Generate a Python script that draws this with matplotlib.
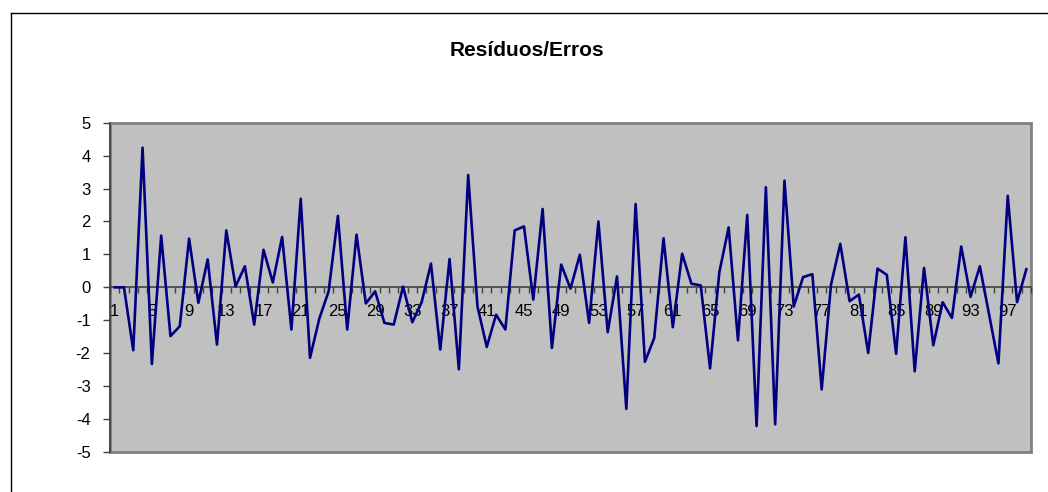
import matplotlib
matplotlib.use('Agg')
import matplotlib.pyplot as plt
import numpy as np
from matplotlib.patches import Rectangle
from matplotlib.lines import Line2D

plt.rcParams['font.family'] = ['Liberation Sans', 'DejaVu Sans']
plt.rcParams['axes.unicode_minus'] = False

title = 'Resíduos/Erros'

# residuos observados, um por observacao
residuos = [
    0.0, 0.0, -1.91, 4.24, -2.33, 1.57, -1.48, -1.18, 1.48, -0.47,
    0.85, -1.74, 1.73, 0.03, 0.64, -1.13, 1.14, 0.15, 1.53, -1.28,
    2.69, -2.14, -0.95, -0.12, 2.17, -1.28, 1.60, -0.49, -0.12, -1.08,
    -1.13, 0.02, -1.06, -0.45, 0.72, -1.89, 0.86, -2.49, 3.41, -0.58,
    -1.81, -0.83, -1.28, 1.73, 1.85, -0.37, 2.38, -1.84, 0.69, -0.04,
    0.99, -1.08, 2.00, -1.36, 0.33, -3.69, 2.53, -2.26, -1.54, 1.49,
    -1.21, 1.02, 0.11, 0.06, -2.46, 0.46, 1.82, -1.61, 2.20, -4.21,
    3.04, -4.16, 3.24, -0.58, 0.31, 0.40, -3.10, 0.08, 1.32, -0.42,
    -0.22, -1.99, 0.57, 0.38, -2.02, 1.52, -2.55, 0.59, -1.76, -0.45,
    -0.93, 1.24, -0.29, 0.64, -0.83, -2.31, 2.78, -0.45, 0.55,
]
obs = np.arange(1, len(residuos) + 1)
label_step = 4
y_ticks = list(range(-5, 6))

W, H = 1048, 492
fig = plt.figure(figsize=(W / 100, H / 100), dpi=100)
fig.patch.set_facecolor('white')

# moldura externa do grafico
fig.add_artist(Line2D([10.5 / W, 10.5 / W], [0, 1 - 12.5 / H], color='black', lw=1))
fig.add_artist(Line2D([10.5 / W, 1], [1 - 12.5 / H, 1 - 12.5 / H], color='black', lw=1))

left, right, top, bottom = 110, 1031, 122.7, 452
ax = fig.add_axes([left / W, (H - bottom) / H, (right - left) / W, (bottom - top) / H])
ax.set_facecolor('#C0C0C0')

ax.plot(obs, residuos, color='#000080', lw=1.9, zorder=3)

ax.set_xlim(0.5, len(residuos) + 0.5)
ax.set_ylim(-5, 5)

# eixo das categorias cruzando no zero
for s in ['top', 'right']:
    ax.spines[s].set_visible(False)
ax.spines['bottom'].set_position(('data', 0))
ax.spines['bottom'].set_color('#404040')
ax.spines['bottom'].set_linewidth(1.2)
ax.spines['left'].set_color('#404040')
ax.spines['left'].set_linewidth(1.2)

ax.set_xticks(obs[::label_step])
ax.set_xticklabels([str(i) for i in obs[::label_step]])
ax.set_xticks(np.arange(0.5, len(residuos) + 1, 1), minor=True)
ax.tick_params(axis='x', which='major', length=0, pad=12, labelsize=12)
ax.tick_params(axis='x', which='minor', length=4, width=1, color='#404040', direction='out')

ax.set_yticks(y_ticks)
ax.set_yticklabels([str(v) for v in y_ticks])
ax.tick_params(axis='y', length=5, width=1, color='#404040', pad=9, labelsize=12)

ax.add_patch(Rectangle((0, 0), 1, 1, transform=ax.transAxes, fill=False,
                       edgecolor='#808080', lw=2, clip_on=False, zorder=1))

fig.text(527 / W, 1 - 50 / H, title, ha='center', va='center',
         fontsize=15, fontweight='bold')

fig.savefig('out.png', dpi=100)
